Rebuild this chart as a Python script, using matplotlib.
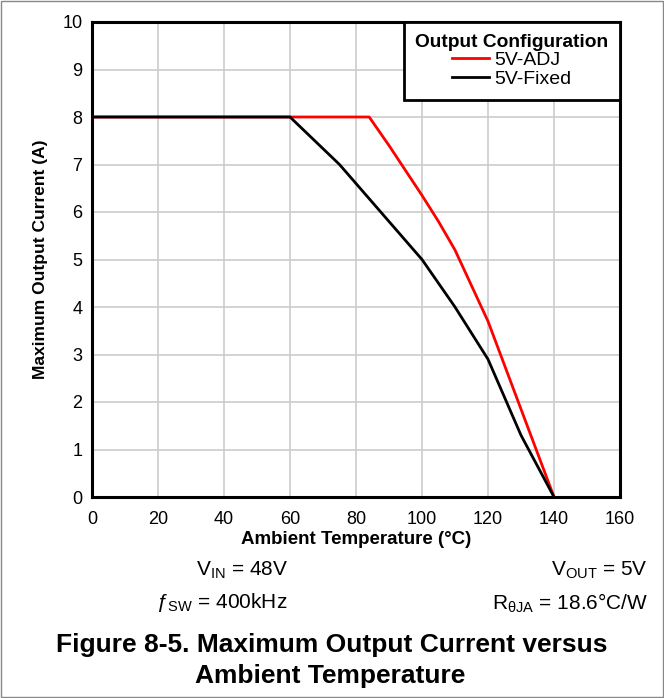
import numpy as np
import matplotlib
matplotlib.use("Agg")
import matplotlib.pyplot as plt
from matplotlib.patches import Rectangle

plt.rcParams['font.family'] = ['Liberation Sans', 'DejaVu Sans']
plt.rcParams['mathtext.default'] = 'regular'

# data
temp_adj = [0, 84, 90, 100, 105, 110, 120, 140]
curr_adj = [8, 8, 7.4, 6.35, 5.8, 5.2, 3.7, 0]
temp_fixed = [0, 60, 75, 100, 110, 120, 130, 140]
curr_fixed = [8, 8, 7.0, 5.0, 4.0, 2.9, 1.3, 0]
series_names = ["5V-ADJ", "5V-Fixed"]
x_ticks = [0, 20, 40, 60, 80, 100, 120, 140, 160]
y_ticks = list(range(0, 11))

fig = plt.figure(figsize=(6.64, 6.98), dpi=100)
ax = fig.add_axes([92/664, 1 - 497/698, 528/664, 475/698])

ax.plot(temp_adj, curr_adj, color="#ff0000", lw=2, label=series_names[0], zorder=3)
ax.plot(temp_fixed, curr_fixed, color="black", lw=2, label=series_names[1], zorder=3)

ax.set_xlim(0, 160)
ax.set_ylim(0, 10)
ax.set_xticks(x_ticks)
ax.set_yticks(y_ticks)
ax.tick_params(length=0, labelsize=13)
ax.tick_params(axis="x", pad=10)
ax.tick_params(axis="y", pad=7)
ax.grid(True, color="#cccccc", lw=1.2)
ax.set_axisbelow(True)
for s in ax.spines.values():
    s.set_linewidth(2.2)
    s.set_color("black")

ax.set_xlabel("Ambient Temperature (°C)", fontsize=13.5, fontweight="bold", labelpad=2)
ax.set_ylabel("Maximum Output Current (A)", fontsize=12.5, fontweight="bold", labelpad=10)

leg = ax.legend(title="Output Configuration", loc="upper right", fontsize=14,
                title_fontproperties={"weight": "bold", "size": 13.8},
                fancybox=False, framealpha=1, edgecolor="black",
                borderaxespad=0, handlelength=1.9, labelspacing=0.05,
                borderpad=0.6, handletextpad=0.3)
leg.get_frame().set_linewidth(2)

fig.text(242/664, 1 - 570/698, r"V$_{IN}$ = 48V", fontsize=15, ha="center", va="center")
fig.text(648/664, 1 - 570/698, r"V$_{OUT}$ = 5V", fontsize=15, ha="right", va="center")
fig.text(222/664, 1 - 603/698, r"$ƒ$$_{SW}$ = 400kHz", fontsize=15, ha="center", va="center")
fig.text(648/664, 1 - 603/698, r"R$_{θJA}$ = 18.6°C/W", fontsize=15, ha="right", va="center")
fig.text(332/664, 1 - 645/698, "Figure 8-5. Maximum Output Current versus",
         fontsize=19, fontweight="bold", ha="center", va="center")
fig.text(330/664, 1 - 676/698, "Ambient Temperature",
         fontsize=19, fontweight="bold", ha="center", va="center")

fig.patches.append(Rectangle((0.001, 0.001), 0.998, 0.998, transform=fig.transFigure,
                             fill=False, edgecolor="#888888", lw=1))

fig.savefig("out.png", dpi=100)
